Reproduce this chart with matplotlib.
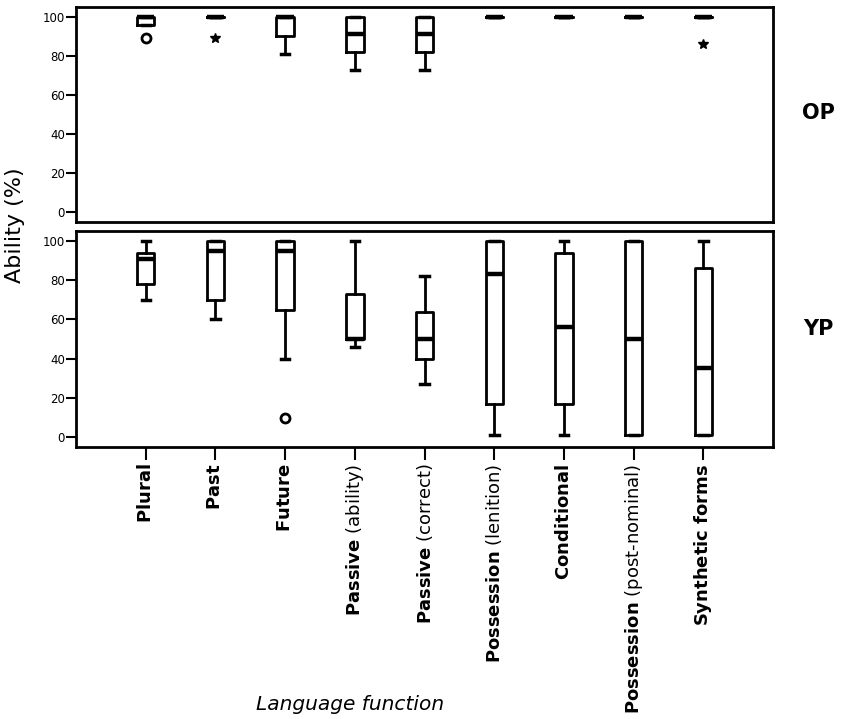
import matplotlib
matplotlib.use('Agg')
import matplotlib.pyplot as plt

plt.rcParams['mathtext.fontset'] = 'dejavusans'

cats = [r'$\mathbf{Plural}$', r'$\mathbf{Past}$', r'$\mathbf{Future}$',
        r'$\mathbf{Passive}$ (ability)', r'$\mathbf{Passive}$ (correct)',
        r'$\mathbf{Possession}$ (lenition)', r'$\mathbf{Conditional}$',
        r'$\mathbf{Possession}$ (post-nominal)', r'$\mathbf{Synthetic\ forms}$']

# OP group (older participants)
op_whislo = [96, 100, 81, 73, 73, 100, 100, 100, 100]
op_q1 = [96, 100, 90, 82, 82, 100, 100, 100, 100]
op_med = [100, 100, 100, 91, 91, 100, 100, 100, 100]
op_q3 = [100, 100, 100, 100, 100, 100, 100, 100, 100]
op_whishi = [100, 100, 100, 100, 100, 100, 100, 100, 100]
op_out_pos = [1, 2, 9]
op_out_val = [89, 89, 86]
op_out_mark = ['o', '*', '*']

# YP group (younger participants)
yp_whislo = [70, 60, 40, 46, 27, 1, 1, 1, 1]
yp_q1 = [78, 70, 65, 50, 40, 17, 17, 1, 1]
yp_med = [91, 95, 95, 50, 50, 83, 56, 50, 35]
yp_q3 = [94, 100, 100, 73, 64, 100, 94, 100, 86]
yp_whishi = [100, 100, 100, 100, 82, 100, 100, 100, 100]
yp_out_pos = [3]
yp_out_val = [10]
yp_out_mark = ['o']

fig = plt.figure(figsize=(8.42, 7.19), dpi=100)
ax1 = fig.add_axes([0.0903, 0.6912, 0.828, 0.299])
ax2 = fig.add_axes([0.0903, 0.3783, 0.828, 0.3004])


def draw(ax, lo, q1, med, q3, hi, opos, oval, omark):
    stats = []
    for i in range(len(lo)):
        stats.append({'whislo': lo[i], 'q1': q1[i], 'med': med[i],
                      'q3': q3[i], 'whishi': hi[i], 'fliers': []})
    pos = list(range(1, len(lo) + 1))
    ax.bxp(stats, positions=pos, widths=0.25, capwidths=0.12,
           showfliers=False, patch_artist=False,
           boxprops=dict(color='black', linewidth=2),
           whiskerprops=dict(color='black', linewidth=2),
           capprops=dict(color='black', linewidth=2.5),
           medianprops=dict(color='black', linewidth=3.2))
    for p, v, m in zip(opos, oval, omark):
        if m == 'o':
            ax.plot(p, v, 'o', ms=6.5, mfc='white', mec='black', mew=2)
        else:
            ax.plot(p, v, '*', ms=7, color='black')
    ax.set_xlim(0, 10)
    ax.set_ylim(-5, 105)
    ax.set_yticks([0, 20, 40, 60, 80, 100])
    for s in ax.spines.values():
        s.set_linewidth(2)
    ax.tick_params(axis='y', length=7, width=1.5, labelsize=8.5, pad=1)


draw(ax1, op_whislo, op_q1, op_med, op_q3, op_whishi, op_out_pos, op_out_val, op_out_mark)
draw(ax2, yp_whislo, yp_q1, yp_med, yp_q3, yp_whishi, yp_out_pos, yp_out_val, yp_out_mark)

ax1.set_xticks([])
ax2.set_xticks(range(1, 10))
ax2.set_xticklabels(cats, rotation=90, fontsize=13, va='top', ha='center')
ax2.tick_params(axis='x', length=9, width=1.5, pad=3)

fig.text(15 / 842, 1 - 225 / 719, 'Ability (%)', rotation=90, fontsize=16,
         ha='center', va='center')
fig.text(818 / 842, 1 - 113 / 719, 'OP', fontsize=15, fontweight='bold',
         ha='center', va='center')
fig.text(818 / 842, 1 - 329 / 719, 'YP', fontsize=15, fontweight='bold',
         ha='center', va='center')
fig.text(350 / 842, 1 - 704 / 719, 'Language function', fontsize=14.5,
         style='italic', ha='center', va='center')

fig.savefig('out.png', dpi=100)
